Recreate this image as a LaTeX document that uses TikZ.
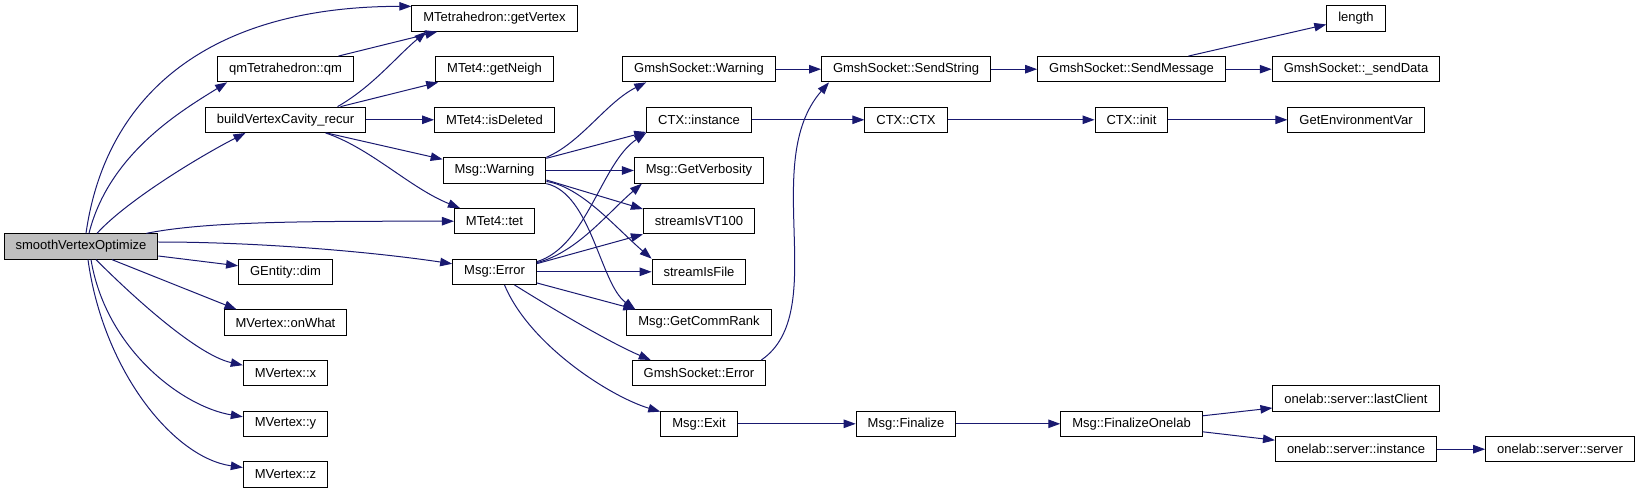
\documentclass[tikz,border=0pt]{standalone}
\usepackage{fontspec}
\setmainfont{Liberation Sans}
\usetikzlibrary{arrows.meta}
\definecolor{midnightblue}{RGB}{25,25,112}

\begin{document}
\begin{tikzpicture}[x=1pt, y=1pt,
    fn/.style={rectangle, draw=black, line width=1pt, fill=white, minimum height=25.3pt,
               inner xsep=11.5pt, inner ysep=0pt, font=\fontsize{13}{15}\selectfont},
    call/.style={draw=midnightblue, line width=1pt, -{Triangle[length=12pt,width=8.5pt]}}]
\useasboundingbox (0,0) rectangle (1637,493);

% Caller
\node[fn, fill=black!25] (svo) at (81,246.5) {smoothVertexOptimize};

% Rank 1
\node[fn] (qm) at (285.5,423.8) {qmTetrahedron::qm};
\node[fn] (bvc) at (285.5,373.2) {buildVertexCavity\_recur};
\node[fn] (gdim) at (285.5,221.2) {GEntity::dim};
\node[fn] (onwhat) at (285.5,170.5) {MVertex::onWhat};
\node[fn] (mvx) at (285.5,119.8) {MVertex::x};
\node[fn] (mvy) at (285.5,69.2) {MVertex::y};
\node[fn] (mvz) at (285.5,18.5) {MVertex::z};

% Rank 2
\node[fn] (getvtx) at (494.5,474.5) {MTetrahedron::getVertex};
\node[fn] (getneigh) at (494.5,423.8) {MTet4::getNeigh};
\node[fn] (isdel) at (494.5,373.2) {MTet4::isDeleted};
\node[fn] (mwarn) at (494.5,322.5) {Msg::Warning};
\node[fn] (tet) at (494.5,271.8) {MTet4::tet};
\node[fn] (merr) at (494.5,221.2) {Msg::Error};

% Rank 3
\node[fn] (gswarn) at (699,423.8) {GmshSocket::Warning};
\node[fn] (ctxinst) at (699,373.2) {CTX::instance};
\node[fn] (getverb) at (699,322.5) {Msg::GetVerbosity};
\node[fn] (vt100) at (699,271.8) {streamIsVT100};
\node[fn] (isfile) at (699,221.2) {streamIsFile};
\node[fn] (commrank) at (699,170.5) {Msg::GetCommRank};
\node[fn] (gserr) at (699,119.8) {GmshSocket::Error};
\node[fn] (mexit) at (699,69.2) {Msg::Exit};

% Rank 4
\node[fn] (sendstr) at (906,423.8) {GmshSocket::SendString};
\node[fn] (ctxctx) at (906,373.2) {CTX::CTX};
\node[fn] (mfinal) at (906,69.2) {Msg::Finalize};

% Rank 5
\node[fn] (sendmsg) at (1131.5,423.8) {GmshSocket::SendMessage};
\node[fn] (ctxinit) at (1131.5,373.2) {CTX::init};
\node[fn] (finonelab) at (1131.5,69.2) {Msg::FinalizeOnelab};

% Rank 6 and 7
\node[fn] (length) at (1356,474.5) {length};
\node[fn] (senddata) at (1356,423.8) {GmshSocket::\_sendData};
\node[fn] (getenv) at (1356,373.2) {GetEnvironmentVar};
\node[fn] (lastcl) at (1356,94.5) {onelab::server::lastClient};
\node[fn] (olinst) at (1356,43.8) {onelab::server::instance};
\node[fn] (olserver) at (1560,43.8) {onelab::server::server};

% Calls from smoothVertexOptimize
\draw[call] ([xshift=5]svo.north) .. controls +(20,141) and +(-200,0) .. ([yshift=-1]getvtx.north west);
\draw[call] ([xshift=8]svo.north) .. controls +(20,80) and +(-45,-28) .. ([xshift=10]qm.south west);
\draw[call] ([xshift=16]svo.north) .. controls +(30,33) and +(-45,-23) .. ([xshift=-40]bvc.south);
\draw[call] ([xshift=-12]svo.north east) .. controls +(60,12) and +(-150,0) .. (tet.west);
\draw[call] ([yshift=4.5]svo.east) .. controls +(100,0) and +(-80,12) .. ([yshift=8]merr.west);
\draw[call] ([yshift=-9.5]svo.east) -- ([yshift=6]gdim.west);
\draw[call] ([xshift=31]svo.south) -- ([xshift=-49]onwhat.north);
\draw[call] ([xshift=15]svo.south) .. controls +(40,-40) and +(-45,10) .. ([yshift=8]mvx.west);
\draw[call] ([xshift=10]svo.south) .. controls +(15,-90) and +(-60,10) .. ([yshift=7]mvy.west);
\draw[call] ([xshift=7]svo.south) .. controls +(15,-110) and +(-70,10) .. ([yshift=7]mvz.west);

% Rank 1 calls
\draw[call] ([xshift=53]qm.north) -- ([xshift=26]getvtx.south west);
\draw[call] ([xshift=52]bvc.north) .. controls +(35,20) and +(-30,-25) .. ([xshift=15]getvtx.south west);
\draw[call] ([xshift=55]bvc.north) -- ([xshift=3]getneigh.south west);
\draw[call] (bvc.east) -- (isdel.west);
\draw[call] ([xshift=41]bvc.south) -- ([yshift=-2]mwarn.north west);
\draw[call] ([xshift=40]bvc.south) .. controls +(45,-15) and +(-50,20) .. ([xshift=6]tet.north west);

% Msg::Warning calls
\draw[call] (mwarn.north east) .. controls +(35,15) and +(-40,-20) .. ([xshift=24]gswarn.south west);
\draw[call] ([yshift=-1]mwarn.north east) -- ([yshift=1]ctxinst.south west);
\draw[call] (mwarn.east) -- (getverb.west);
\draw[call] ([yshift=-9.5]mwarn.east) -- ([yshift=-1]vt100.north west);
\draw[call] ([yshift=-11]mwarn.east) .. controls +(35,-5) and +(-35,30) .. (isfile.north west);
\draw[call] (mwarn.south east) .. controls +(45,-10) and +(-35,25) .. ([xshift=9]commrank.north west);

% Msg::Error calls
\draw[call] ([yshift=-3]merr.north east) .. controls +(50,15) and +(-45,-30) .. (ctxinst.south west);
\draw[call] ([yshift=-4]merr.north east) .. controls +(40,10) and +(-35,-30) .. ([xshift=8]getverb.south west);
\draw[call] ([yshift=-5]merr.north east) -- (vt100.south west);
\draw[call] (merr.east) -- (isfile.west);
\draw[call] ([yshift=2]merr.south east) -- ([xshift=9]commrank.north west);
\draw[call] ([xshift=20]merr.south) .. controls +(40,-25) and +(-40,17) .. ([xshift=19]gserr.north west);
\draw[call] ([xshift=10]merr.south) .. controls +(25,-60) and +(-50,15) .. ([yshift=-1]mexit.north west);

% Further calls
\draw[call] (gswarn.east) -- (sendstr.west);
\draw[call] ([xshift=-5]gserr.north east) .. controls +(70,48) and +(-70,-80) .. ([xshift=8]sendstr.south west);
\draw[call] (sendstr.east) -- (sendmsg.west);
\draw[call] ([xshift=57]sendmsg.north) -- ([yshift=-6]length.west);
\draw[call] (sendmsg.east) -- (senddata.west);
\draw[call] (ctxinst.east) -- (ctxctx.west);
\draw[call] (ctxctx.east) -- (ctxinit.west);
\draw[call] (ctxinit.east) -- (getenv.west);
\draw[call] (mexit.east) -- (mfinal.west);
\draw[call] (mfinal.east) -- (finonelab.west);
\draw[call] ([yshift=8]finonelab.east) -- ([yshift=-9.5]lastcl.west);
\draw[call] ([yshift=-8]finonelab.east) -- ([yshift=9]olinst.west);
\draw[call] (olinst.east) -- (olserver.west);

\end{tikzpicture}
\end{document}
